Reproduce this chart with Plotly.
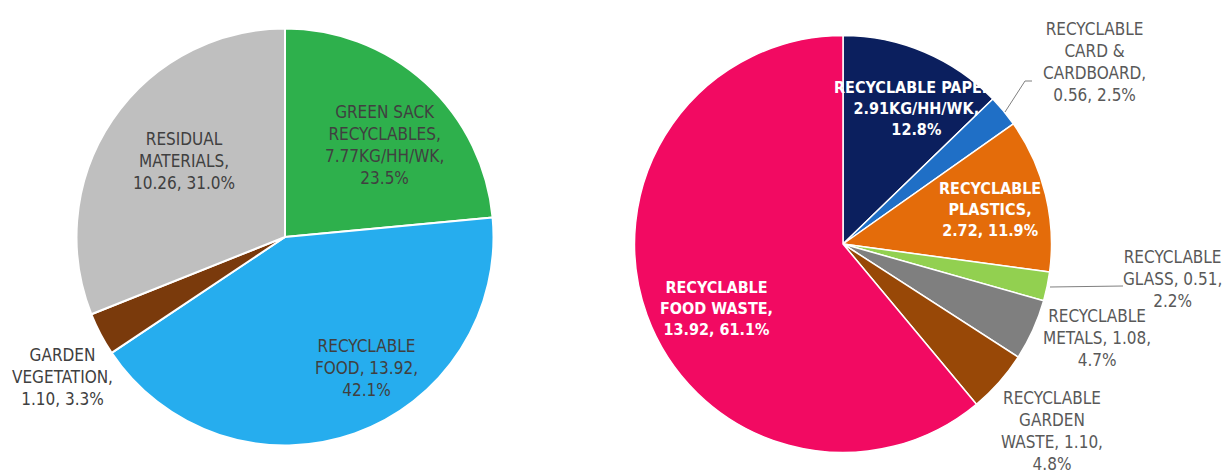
import plotly.graph_objects as go

W, H = 1223, 474

# Left pie: household waste split
left_labels = ["GREEN SACK RECYCLABLES", "RECYCLABLE FOOD", "GARDEN VEGETATION", "RESIDUAL MATERIALS"]
left_values = [7.77, 13.92, 1.10, 10.26]
left_colors = ["#2EB04C", "#26ADEE", "#7A3A0C", "#BFBFBF"]
left_templates = [
    "GREEN SACK<br>RECYCLABLES,<br>{v:.2f}KG/HH/WK,<br>{p:.1f}%",
    "RECYCLABLE<br>FOOD, {v:.2f},<br>{p:.1f}%",
    "GARDEN<br>VEGETATION,<br>{v:.2f}, {p:.1f}%",
    "RESIDUAL<br>MATERIALS,<br>{v:.2f}, {p:.1f}%",
]
# label centres in pixels (x, y from top)
left_label_pos = [(384, 145), (366, 368), (62, 377), (184, 161)]

# Right pie: recyclable breakdown
right_labels = ["RECYCLABLE PAPER", "RECYCLABLE CARD & CARDBOARD", "RECYCLABLE PLASTICS",
                "RECYCLABLE GLASS", "RECYCLABLE METALS", "RECYCLABLE GARDEN WASTE",
                "RECYCLABLE FOOD WASTE"]
right_values = [2.91, 0.56, 2.72, 0.51, 1.08, 1.10, 13.92]
right_colors = ["#0B1F5E", "#1F6FC6", "#E46C0A", "#92D050", "#7F7F7F", "#984807", "#F20A62"]
right_templates = [
    "<b>RECYCLABLE PAPER,<br>{v:.2f}KG/HH/WK,<br>{p:.1f}%</b>",
    "RECYCLABLE<br>CARD &<br>CARDBOARD,<br>{v:.2f}, {p:.1f}%",
    "<b>RECYCLABLE<br>PLASTICS,<br>{v:.2f}, {p:.1f}%</b>",
    "RECYCLABLE<br>GLASS, {v:.2f},<br>{p:.1f}%",
    "RECYCLABLE<br>METALS, {v:.2f},<br>{p:.1f}%",
    "RECYCLABLE<br>GARDEN<br>WASTE, {v:.2f},<br>{p:.1f}%",
    "<b>RECYCLABLE<br>FOOD WASTE,<br>{v:.2f}, {p:.1f}%</b>",
]
right_label_pos = [(916, 108), (1094, 62), (990, 210), (1172, 279), (1097, 338), (1052, 431), (717, 308)]
right_label_colors = ["white", "#595959", "white", "#595959", "#595959", "#595959", "white"]

FONT = "DejaVu Sans Condensed, Liberation Sans Narrow, sans-serif"


def domain(cx, cy, r):
    return dict(x=[(cx - r) / W, (cx + r) / W], y=[1 - (cy + r) / H, 1 - (cy - r) / H])


fig = go.Figure()
fig.add_trace(go.Pie(
    labels=left_labels, values=left_values, sort=False, direction="clockwise", rotation=0,
    marker=dict(colors=left_colors, line=dict(color="white", width=2)),
    textinfo="none", hoverinfo="label+value+percent", showlegend=False,
    domain=domain(285, 237, 208.5),
))
fig.add_trace(go.Pie(
    labels=right_labels, values=right_values, sort=False, direction="clockwise", rotation=0,
    marker=dict(colors=right_colors, line=dict(color="white", width=1.5)),
    textinfo="none", hoverinfo="label+value+percent", showlegend=False,
    domain=domain(843, 244, 208.5),
))

annotations = []
ltot = sum(left_values)
for tpl, v, (px, py) in zip(left_templates, left_values, left_label_pos):
    annotations.append(dict(
        text=tpl.format(v=v, p=v / ltot * 100), x=px / W, y=1 - py / H,
        xref="paper", yref="paper", xanchor="center", yanchor="middle",
        showarrow=False, align="center",
        font=dict(family=FONT, size=17, color="#404040"),
    ))
rtot = sum(right_values)
for tpl, v, (px, py), c in zip(right_templates, right_values, right_label_pos, right_label_colors):
    bold = c == "white"
    annotations.append(dict(
        text=tpl.format(v=v, p=v / rtot * 100), x=px / W, y=1 - py / H,
        xref="paper", yref="paper", xanchor="center", yanchor="middle",
        showarrow=False, align="center",
        font=dict(family=FONT, size=16 if bold else 17, color=c),
    ))

# leader lines for the small outside-labelled slices
leaders = [
    [(1005, 112), (1025, 81), (1032, 81)],
    [(1050, 287), (1123, 286)],
]
shapes = []
for pts in leaders:
    for (x0, y0), (x1, y1) in zip(pts[:-1], pts[1:]):
        shapes.append(dict(type="line", xref="paper", yref="paper",
                           x0=x0 / W, y0=1 - y0 / H, x1=x1 / W, y1=1 - y1 / H,
                           line=dict(color="#7F7F7F", width=1)))

fig.update_layout(
    width=W, height=H, margin=dict(l=0, r=0, t=0, b=0),
    paper_bgcolor="white", plot_bgcolor="white",
    annotations=annotations, shapes=shapes,
)

fig.write_html("out.html")
